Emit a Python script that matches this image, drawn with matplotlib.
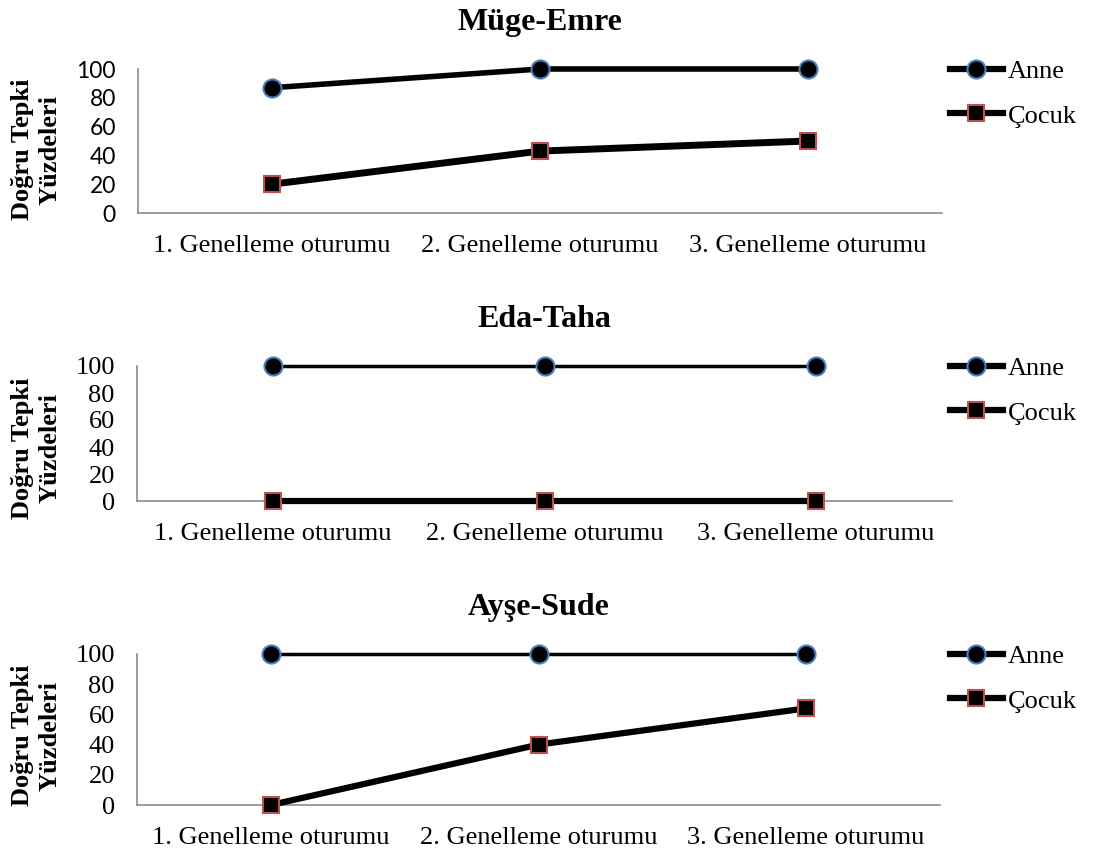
import matplotlib
matplotlib.use("Agg")
import matplotlib.pyplot as plt
from matplotlib.lines import Line2D

plt.rcParams['font.family'] = ['Liberation Serif', 'DejaVu Serif']

sessions = ['1. Genelleme oturumu', '2. Genelleme oturumu', '3. Genelleme oturumu']
yticks = [0, 20, 40, 60, 80, 100]

titles = ['Müge-Emre', 'Eda-Taha', 'Ayşe-Sude']
anne = [[87, 100, 100], [100, 100, 100], [100, 100, 100]]
cocuk = [[20, 43, 50], [0, 0, 0], [0, 40, 64]]

W, H = 1099, 851
# axes boxes in pixels: left, right, top, bottom
boxes = [(138, 942, 69, 213), (137, 952, 366, 501), (137, 940, 654, 805)]
label_y = [0.44, 0.39, 0.46]
anne_lw = [4, 2.5, 2.5]
cocuk_lw = [5, 4.5, 4.5]
tick_fonts = [['Lato', 'DejaVu Sans'], ['Liberation Serif'], ['Liberation Serif']]
tick_sizes = [16.5, 19, 19]

blue = '#4a7ebb'
red = '#c0504d'

fig = plt.figure(figsize=(W / 100, H / 100), dpi=100)

for i in range(3):
    l, r, t, b = boxes[i]
    ax = fig.add_axes([l / W, 1 - b / H, (r - l) / W, (b - t) / H])
    x = range(len(sessions))
    ax.plot(x, anne[i], color='black', lw=anne_lw[i], marker='o', ms=13,
            mfc='black', mec=blue, mew=1.5, clip_on=False, zorder=3)
    ax.plot(x, cocuk[i], color='black', lw=cocuk_lw[i], marker='s', ms=12,
            mfc='black', mec=red, mew=1.5, clip_on=False, zorder=3)
    ax.set_xlim(-0.5, 2.5)
    ax.set_ylim(0, 100)
    ax.set_yticks(yticks)
    ax.set_xticks(list(x))
    ax.set_xticklabels(sessions, fontsize=19, family=['Liberation Serif'])
    ax.set_yticklabels([str(v) for v in yticks], fontsize=tick_sizes[i],
                       family=tick_fonts[i])
    ax.tick_params(axis='y', length=0, pad=16)
    ax.tick_params(axis='x', length=0, pad=16)
    for s in ['top', 'right']:
        ax.spines[s].set_visible(False)
    for s in ['left', 'bottom']:
        ax.spines[s].set_color('#8c8c8c')
        ax.spines[s].set_linewidth(1.2)
    ax.set_title(titles[i], fontsize=23, fontweight='bold', pad=28)
    ax.set_ylabel('Doğru Tepki\nYüzdeleri', fontsize=19, fontweight='bold',
                  linespacing=1.25)
    ax.yaxis.set_label_coords((62 - l) / (r - l), label_y[i])

    handles = [
        Line2D([], [], color='black', lw=4.5, marker='o', ms=13, mfc='black',
               mec=blue, mew=1.5),
        Line2D([], [], color='black', lw=4.5, marker='s', ms=12, mfc='black',
               mec=red, mew=1.5),
    ]
    ax.legend(handles, ['Anne', 'Çocuk'], loc='upper left',
              bbox_to_anchor=(950 / W, 1 - (t - 9) / H),
              bbox_transform=fig.transFigure, frameon=False, fontsize=19,
              handlelength=2.0, handletextpad=0.2, labelspacing=0.78,
              borderaxespad=0, borderpad=0)

fig.savefig('out.png', dpi=100)
